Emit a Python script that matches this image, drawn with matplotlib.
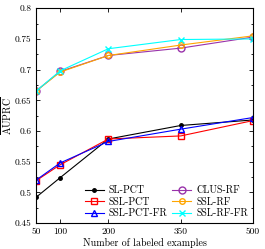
import matplotlib
matplotlib.use("Agg")
import matplotlib.pyplot as plt
from matplotlib.ticker import FixedLocator

plt.rcParams['font.family'] = 'serif'
plt.rcParams['font.serif'] = ['cmr10', 'DejaVu Serif']
plt.rcParams['mathtext.fontset'] = 'cm'
plt.rcParams['axes.formatter.use_mathtext'] = True

# numero di esempi etichettati
n_labeled = [50, 100, 200, 350, 500]

sl_pct = [0.492, 0.524, 0.587, 0.609, 0.618]
ssl_pct = [0.519, 0.545, 0.587, 0.592, 0.617]
ssl_pct_fr = [0.520, 0.548, 0.583, 0.603, 0.622]
clus_rf = [0.665, 0.697, 0.723, 0.735, 0.753]
ssl_rf = [0.665, 0.696, 0.723, 0.740, 0.755]
ssl_rf_fr = [0.665, 0.698, 0.734, 0.749, 0.750]

y_ticks = [0.45, 0.5, 0.55, 0.6, 0.65, 0.7, 0.75, 0.8]
y_labels = ['0.45', '0.5', '0.55', '0.6', '0.65', '0.7', '0.75', '0.8']

fig = plt.figure(figsize=(2.65, 2.49), dpi=100)
ax = fig.add_axes([0.136, 0.104, 0.819, 0.863])

lw = 0.8
ax.plot(n_labeled, sl_pct, color='black', marker='o', markersize=2.5, lw=lw, label='SL-PCT')
ax.plot(n_labeled, ssl_pct, color='red', marker='s', markersize=5, mfc='none', lw=lw, label='SSL-PCT')
ax.plot(n_labeled, ssl_pct_fr, color='blue', marker='^', markersize=5, mfc='none', lw=lw, label='SSL-PCT-FR')
ax.plot(n_labeled, clus_rf, color='#9932aa', marker='o', markersize=5, mfc='none', lw=lw, label='CLUS-RF')
ax.plot(n_labeled, ssl_rf, color='orange', marker='o', markersize=4, mfc='none', lw=lw, label='SSL-RF')
ax.plot(n_labeled, ssl_rf_fr, color='cyan', marker='x', markersize=5, lw=lw, label='SSL-RF-FR')

ax.set_xlim(50, 500)
ax.set_ylim(0.45, 0.8)
ax.set_xticks(n_labeled)
ax.set_xticklabels([str(v) for v in n_labeled])
ax.set_yticks(y_ticks)
ax.set_yticklabels(y_labels)
ax.yaxis.set_minor_locator(FixedLocator([t + 0.025 for t in y_ticks[:-1]]))
ax.tick_params(axis='both', which='both', direction='in', top=True, right=True, labelsize=6.8)
ax.tick_params(which='major', length=3, width=0.6)
ax.tick_params(which='minor', length=1.5, width=0.6)
ax.tick_params(axis='x', pad=3)
for s in ax.spines.values():
    s.set_linewidth(0.8)

ax.set_xlabel('Number of labeled examples', fontsize=7.2, labelpad=2)
ax.set_ylabel(r'$\overline{\mathrm{AUPRC}}$', fontsize=7.2)
ax.yaxis.set_label_coords(-0.1, 0.5)

ax.legend(loc='lower right', ncol=2, frameon=False, fontsize=7.2, handlelength=1.9,
          columnspacing=0.5, handletextpad=0.5, labelspacing=0.2, borderaxespad=0.1,
          borderpad=0.4)

plt.savefig('out.png', dpi=100)
